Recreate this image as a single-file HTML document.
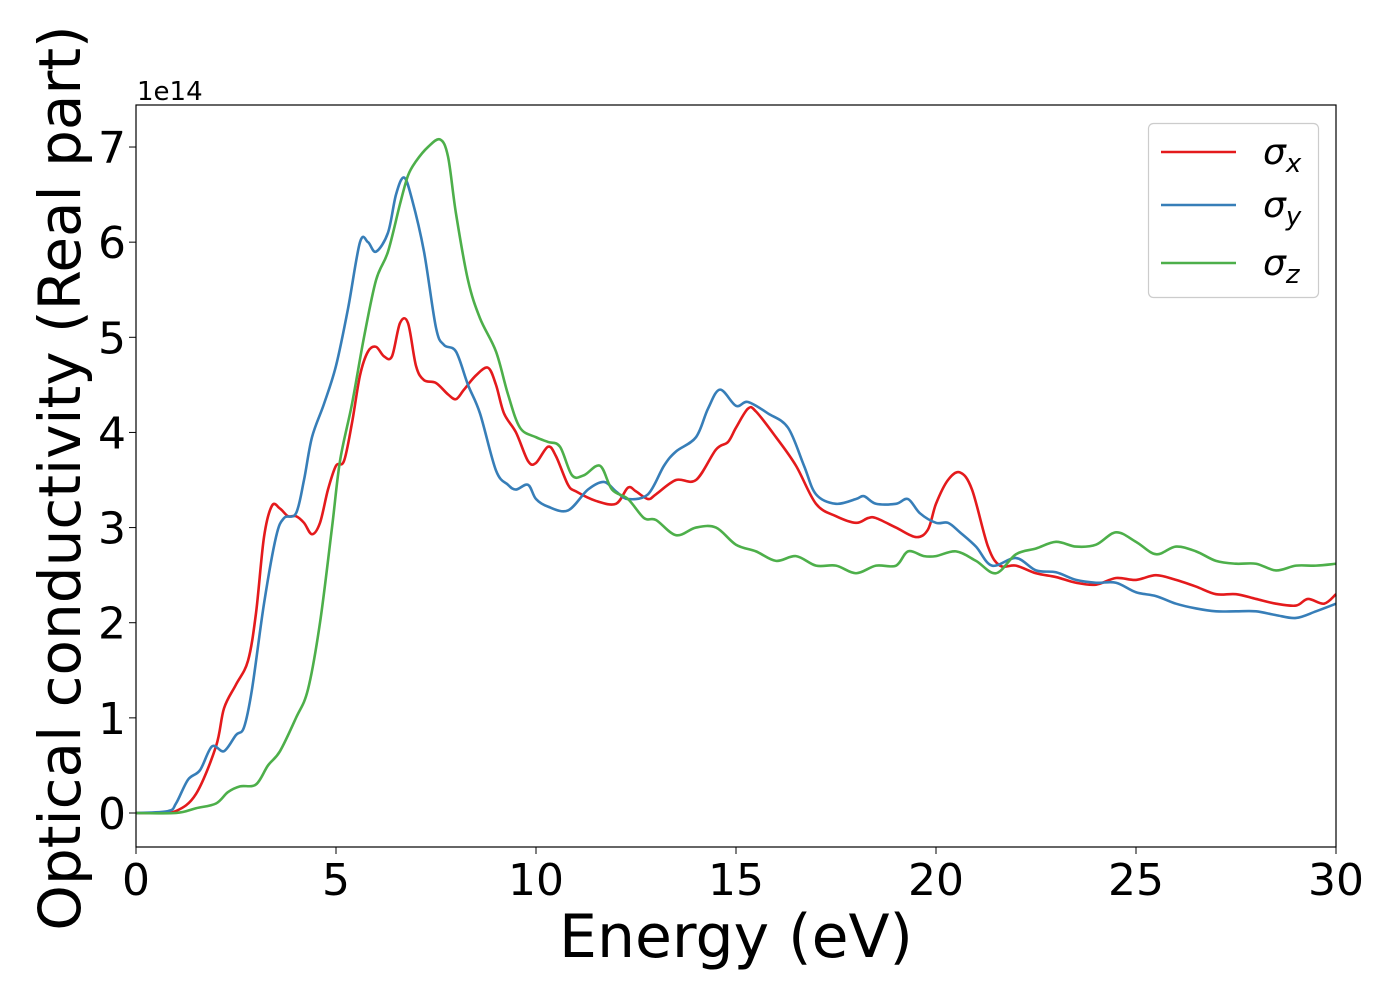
<!DOCTYPE html>
<html><head><meta charset="utf-8"><style>
body{margin:0;background:#fff}
svg text{font-family:"DejaVu Sans","Liberation Sans",sans-serif;fill:#000}
</style></head><body>
<svg id="chart" width="1400" height="1000" viewBox="0 0 1400 1000" xmlns="http://www.w3.org/2000/svg">
<g id="lines"></g>
<rect x="136" y="105" width="1200" height="742" fill="none" stroke="#000" stroke-width="1.2"/>
<g id="ticks"></g>
<text x="137" y="100" font-size="26">1e14</text>
<text x="736" y="957" font-size="60" text-anchor="middle">Energy (eV)</text>
<text transform="translate(80,478) rotate(-90)" font-size="58" text-anchor="middle">Optical conductivity (Real part)</text>
<g>
<rect x="1148.5" y="123.5" width="170" height="174" rx="5" fill="#fff" fill-opacity="0.8" stroke="#ccc" stroke-width="1.2"/>
<line x1="1161" y1="152" x2="1236" y2="152" stroke="#e41a1c" stroke-width="2.6"/>
<line x1="1161" y1="205" x2="1236" y2="205" stroke="#377eb8" stroke-width="2.6"/>
<line x1="1161" y1="263" x2="1236" y2="263" stroke="#4daf4a" stroke-width="2.6"/>
<text x="1263" y="164" font-size="36" font-style="italic">σ<tspan font-size="26" dy="8">x</tspan></text>
<text x="1263" y="217" font-size="36" font-style="italic">σ<tspan font-size="26" dy="8">y</tspan></text>
<text x="1263" y="275" font-size="36" font-style="italic">σ<tspan font-size="26" dy="8">z</tspan></text>
</g>
</svg>
<script>
const xTicks=[0,5,10,15,20,25,30];
const yTicks=[0,1,2,3,4,5,6,7];
const sxE=[0,0.5,1,1.5,2,2.2,2.5,2.8,3,3.2,3.4,3.6,3.8,4,4.2,4.4,4.6,4.8,5,5.2,5.4,5.6,5.8,6,6.2,6.4,6.6,6.8,7,7.2,7.5,7.8,8,8.2,8.5,8.8,9,9.2,9.5,9.8,10,10.3,10.5,10.8,11,11.5,12,12.3,12.5,12.8,13,13.5,14,14.5,14.8,15,15.3,15.5,16,16.5,17,17.5,18,18.3,18.5,19,19.5,19.8,20,20.3,20.6,20.9,21.3,21.6,22,22.5,23,23.5,24,24.5,25,25.5,26,26.5,27,27.5,28,28.5,29,29.3,29.7,30];
const sxV=[0,0,0.02,0.2,0.7,1.1,1.35,1.6,2.1,2.9,3.23,3.2,3.12,3.12,3.05,2.93,3.05,3.4,3.65,3.7,4.1,4.6,4.85,4.9,4.8,4.8,5.15,5.15,4.7,4.55,4.52,4.4,4.35,4.45,4.6,4.68,4.5,4.2,4.0,3.7,3.68,3.85,3.75,3.45,3.38,3.28,3.25,3.42,3.38,3.3,3.35,3.5,3.5,3.82,3.9,4.05,4.25,4.22,3.95,3.65,3.25,3.12,3.05,3.1,3.1,3.0,2.9,2.98,3.25,3.5,3.58,3.4,2.8,2.6,2.6,2.52,2.48,2.42,2.4,2.47,2.45,2.5,2.45,2.38,2.3,2.3,2.25,2.2,2.18,2.25,2.2,2.3];
const syE=[0,0.8,1,1.3,1.6,1.9,2.2,2.5,2.7,2.9,3.2,3.5,3.7,4,4.2,4.4,4.7,5,5.3,5.6,5.8,6,6.3,6.5,6.7,6.9,7.2,7.5,7.7,8,8.3,8.6,9,9.3,9.5,9.8,10,10.3,10.8,11.3,11.7,12,12.3,12.8,13.2,13.5,14,14.3,14.6,15,15.3,15.8,16.3,16.7,17,17.5,18,18.2,18.5,19,19.3,19.6,20,20.3,20.6,21,21.4,22,22.5,23,23.5,24,24.5,25,25.5,26,26.5,27,27.5,28,28.5,29,29.5,30];
const syV=[0,0.02,0.1,0.35,0.45,0.7,0.65,0.82,0.9,1.3,2.2,2.9,3.1,3.15,3.5,3.95,4.3,4.7,5.3,6.0,6.0,5.9,6.1,6.5,6.68,6.45,5.9,5.1,4.92,4.85,4.5,4.2,3.6,3.45,3.4,3.45,3.3,3.22,3.18,3.4,3.48,3.38,3.3,3.35,3.65,3.8,3.95,4.25,4.45,4.28,4.32,4.2,4.05,3.65,3.35,3.25,3.3,3.33,3.25,3.25,3.3,3.15,3.05,3.05,2.95,2.8,2.6,2.68,2.55,2.53,2.45,2.42,2.42,2.32,2.28,2.2,2.15,2.12,2.12,2.12,2.08,2.05,2.12,2.2];
const szE=[0,1,1.5,2,2.3,2.6,3,3.3,3.6,4,4.3,4.6,4.9,5.1,5.4,5.7,6,6.3,6.6,6.8,7,7.3,7.6,7.8,8,8.3,8.6,9,9.3,9.6,10,10.3,10.6,10.9,11.2,11.6,11.9,12.3,12.7,13,13.5,14,14.5,15,15.5,16,16.5,17,17.5,18,18.5,19,19.3,19.7,20,20.5,21,21.5,22,22.5,23,23.5,24,24.5,25,25.5,26,26.5,27,27.5,28,28.5,29,29.5,30];
const szV=[0,0,0.05,0.1,0.22,0.28,0.3,0.5,0.65,1.0,1.3,2.0,3.0,3.7,4.3,5.0,5.6,5.9,6.4,6.7,6.85,7.0,7.08,6.9,6.3,5.6,5.2,4.85,4.4,4.05,3.95,3.9,3.85,3.55,3.55,3.65,3.4,3.3,3.1,3.08,2.92,3.0,3.0,2.82,2.75,2.65,2.7,2.6,2.6,2.52,2.6,2.6,2.75,2.7,2.7,2.75,2.65,2.52,2.72,2.78,2.85,2.8,2.82,2.95,2.85,2.72,2.8,2.75,2.65,2.62,2.62,2.55,2.6,2.6,2.62];
const xS=v=>136+v*40;
const yS=v=>813-v*95.14;
const NS='http://www.w3.org/2000/svg';
function pathFor(E,V){
  const p=E.map((e,i)=>[xS(e),yS(V[i])]);
  let d='M'+p[0][0]+','+p[0][1];
  for(let i=0;i<p.length-1;i++){
    const p0=p[Math.max(0,i-1)],p1=p[i],p2=p[i+1],p3=p[Math.min(p.length-1,i+2)];
    const c1=[p1[0]+(p2[0]-p0[0])/6,p1[1]+(p2[1]-p0[1])/6];
    const c2=[p2[0]-(p3[0]-p1[0])/6,p2[1]-(p3[1]-p1[1])/6];
    d+=' C'+c1[0]+','+c1[1]+' '+c2[0]+','+c2[1]+' '+p2[0]+','+p2[1];
  }
  return d;
}
const lg=document.getElementById('lines');
[[sxE,sxV,'#e41a1c','series-sigma-x'],[syE,syV,'#377eb8','series-sigma-y'],[szE,szV,'#4daf4a','series-sigma-z']].forEach(s=>{
  const el=document.createElementNS(NS,'path');
  el.setAttribute('d',pathFor(s[0],s[1]));
  el.setAttribute('fill','none');el.setAttribute('stroke',s[2]);el.setAttribute('stroke-width','2.6');
  
  
  lg.appendChild(el);
});
const tg=document.getElementById('ticks');
xTicks.forEach(t=>{
  const l=document.createElementNS(NS,'line');
  l.setAttribute('x1',xS(t));l.setAttribute('x2',xS(t));l.setAttribute('y1',847);l.setAttribute('y2',854);l.setAttribute('stroke','#000');
  
  
  tg.appendChild(l);
  const tx=document.createElementNS(NS,'text');
  tx.setAttribute('x',xS(t));tx.setAttribute('y',895);tx.setAttribute('font-size','44');tx.setAttribute('text-anchor','middle');
  tx.textContent=t;
  
  
  tg.appendChild(tx);
});
yTicks.forEach(t=>{
  const l=document.createElementNS(NS,'line');
  l.setAttribute('x1',129);l.setAttribute('x2',136);l.setAttribute('y1',yS(t));l.setAttribute('y2',yS(t));l.setAttribute('stroke','#000');
  
  
  tg.appendChild(l);
  const tx=document.createElementNS(NS,'text');
  tx.setAttribute('x',126);tx.setAttribute('y',yS(t)+16);tx.setAttribute('font-size','44');tx.setAttribute('text-anchor','end');
  tx.textContent=t;
  
  
  tg.appendChild(tx);
});
</script>
</body></html>
